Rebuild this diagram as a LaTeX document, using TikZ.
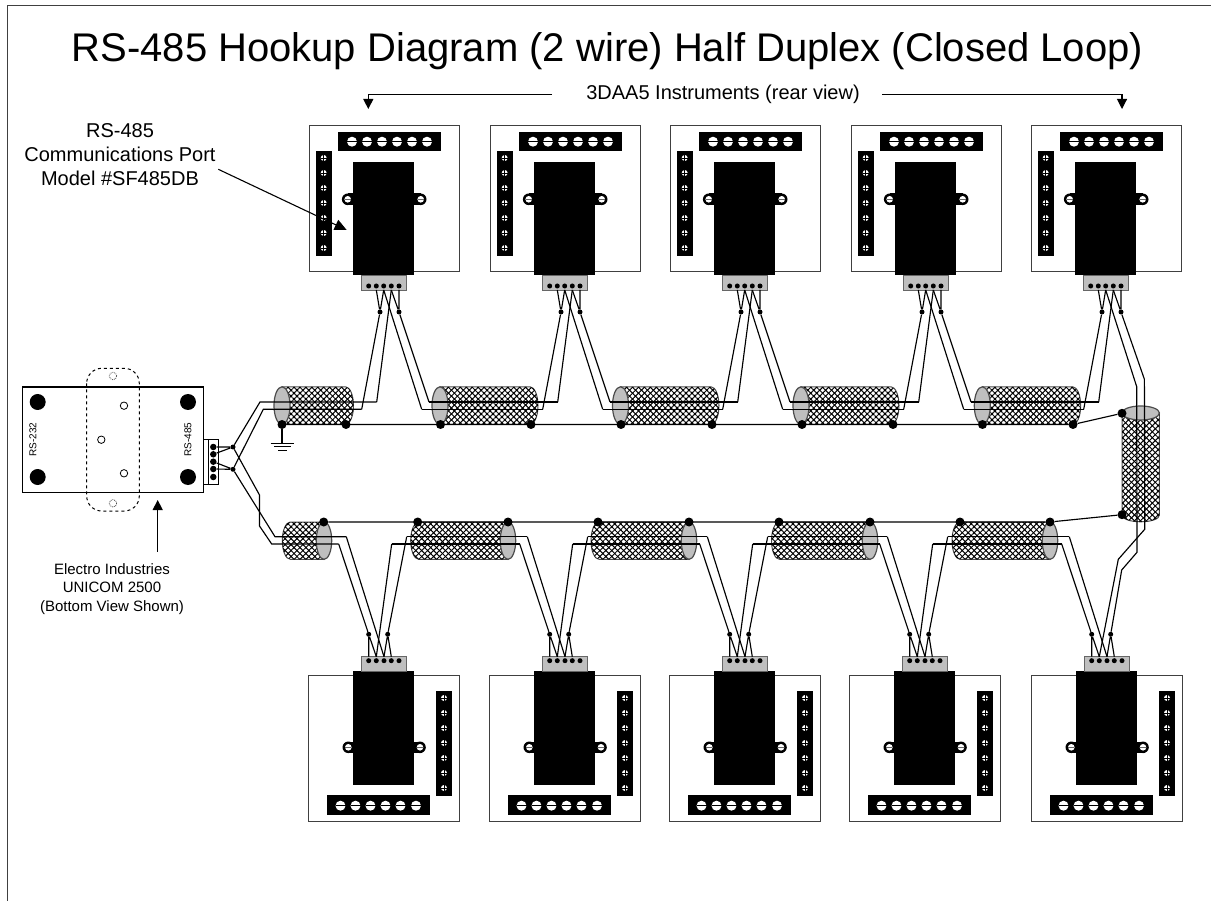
\documentclass[tikz,border=0pt]{standalone}
\usepackage{fontspec}
\setmainfont{Liberation Sans}
\usetikzlibrary{arrows.meta,patterns.meta,shapes.geometric}

\tikzset{
    wire/.style={draw=black, line width=1.15pt},
    edgeline/.style={draw=black!75, line width=0.9pt},
    pointer/.style={draw=black, line width=1.1pt, -{Triangle[length=10pt,width=10pt]}},
    shield/.style={draw=black!70, line width=1pt, fill=white,
        postaction={pattern={Lines[angle=45,distance=4.2pt,line width=1pt]}},
        postaction={pattern={Lines[angle=-45,distance=4.2pt,line width=1pt]}}},
    shieldend/.style={draw=black!70, line width=1.2pt, fill=black!25},
    cabledot/.style={shape=circle, fill=black, inner sep=0pt, minimum size=9pt},
    jointdot/.style={shape=circle, fill=black, inner sep=0pt, minimum size=5pt},
    pindot/.style={shape=circle, fill=black, inner sep=0pt, minimum size=5pt},
    txt/.style={inner sep=0pt, align=center, text=black}
}

\begin{document}
\begin{tikzpicture}[x=1pt,y=-1pt]
    \useasboundingbox (0,0) rectangle (1211,901);
    \draw[edgeline] (7,901) -- (7,5) -- (1211,5);

    \node[txt, anchor=base, font=\fontsize{40}{46}\selectfont] (title) at (607.5,61.5) {RS-485 Hookup Diagram (2 wire) Half Duplex (Closed Loop)};
    \node[txt, font=\fontsize{20}{24}\selectfont] (rearlabel) at (723,94.5) {3DAA5 Instruments (rear view)};
    \node[txt, font=\fontsize{20}{24}\selectfont] (portlabel) at (120,154.5) {RS-485\\Communications Port\\Model \#SF485DB};
    \node[txt, font=\fontsize{15}{18.3}\selectfont] (unicomlabel) at (112,589) {Electro Industries\\UNICOM 2500\\(Bottom View Shown)};

    \coordinate (rearl) at (552,94.3);
    \coordinate (rearr) at (882,94.3);
    \coordinate (dropl) at (368.3,109);
    \coordinate (dropr) at (1122,109);
    \draw[pointer] (rearl) -| (dropl);
    \draw[pointer] (rearr) -| (dropr);
    \coordinate (unifrom) at (157.7,551.7);
    \coordinate (unito) at (157.7,500);
    \draw[pointer] (unifrom) -- (unito);

    % shielded cables
    \foreach \cx/\ex in {282/353.5,440/538,620.5/719,801/899,982.3/1080.7} {
        \path[shield] (\cx,386.8) -- (\ex-8,386.8) .. controls (\ex-3.6,386.8) and (\ex,395.2) .. (\ex,405.6) .. controls (\ex,416) and (\ex-3.6,424.5) .. (\ex-8,424.5) -- (\cx,424.5) -- cycle;
        \path[shieldend] (\cx,405.6) ellipse [x radius=8,y radius=18.8];
    }
    \foreach \cx/\ex in {324/282.3,508/410.7,689/591,870/771.5,1050/952} {
        \path[shield] (\cx,522) -- (\ex+8,522) .. controls (\ex+3.6,522) and (\ex,530.4) .. (\ex,540.6) .. controls (\ex,551) and (\ex+3.6,559.3) .. (\ex+8,559.3) -- (\cx,559.3) -- cycle;
        \path[shieldend] (\cx,540.6) ellipse [x radius=7.7,y radius=18.8];
    }
    \path[shield] (1122,413) -- (1159.4,413) -- (1159.4,515) .. controls (1159.4,519) and (1151,521.8) .. (1140.7,521.8) .. controls (1130.4,521.8) and (1122,519) .. (1122,515) -- cycle;
    \path[shieldend] (1140.7,413) ellipse [x radius=18.7,y radius=7];

    % top instruments
    \foreach \i/\dx in {1/0,2/181,3/361,4/542,5/722} {
    \begin{scope}[shift={(\dx,0)}]
        \draw[edgeline, fill=white] (309,125) rectangle (459.5,271);
        \fill (338,132) rectangle (441,151.5);
        \foreach \sx in {352,367,382,397,412,427} {
            \fill[white] (\sx,141.7) circle (5pt);
            \draw[black, line width=0.8pt] (\sx-5,141.7) -- (\sx+5,141.7);
        }
        \fill (316,151) rectangle (332,256.5);
        \foreach \sy in {158,173,188,203,218,233,248} {
            \fill[white] (323.7,\sy) circle (3pt);
            \draw[black, line width=0.6pt] (320.7,\sy) -- (326.7,\sy) (323.7,\sy-3) -- (323.7,\sy+3);
        }
        \foreach \sx/\nx in {347.7/356,420.7/412} {
            \fill (\sx,193.5) rectangle (\nx,205.1);
            \fill (\sx,199.3) circle (5.8pt);
            \fill[white] (\sx,199.3) circle (3.3pt);
            \draw[black!60, line width=1.2pt] (\sx-3,199.3) -- (\sx+3,199.3);
        }
        \fill (353,161.7) rectangle (414.3,275);
        \draw[draw=black!60, fill=black!25, line width=0.9pt] (361.3,275) rectangle (406.7,290);
        \foreach \n/\px in {1/368.7,2/376.3,3/383.7,4/391.3,5/399} {
            \node[pindot] (tp\i\n) at (\px,286) {};
            \coordinate (tq\i\n) at (\px,290);
        }
        \node[jointdot] (tj\i a) at (380,312) {};
        \node[jointdot] (tj\i b) at (399,312) {};
        \coordinate (tl\i a) at (361.7,409.3);
        \coordinate (tl\i b) at (376.7,402);
        \coordinate (tr\i a) at (421.7,409.3);
        \coordinate (tr\i b) at (429,402);
    \end{scope}
    \draw[wire] (tq\i2) -- (tj\i a) -- (tq\i3);
    \draw[wire] (tq\i4) -- (tj\i b) -- (tq\i5);
    \draw[wire] (tj\i a) -- (tl\i a);
    \draw[wire] (tq\i4) -- (tl\i b);
    }
    \foreach \i in {1,2,3,4} {
        \draw[wire] (tq\i3) -- (tr\i a);
        \draw[wire] (tj\i b) -- (tr\i b);
    }
    \foreach \i/\j in {1/2,2/3,3/4,4/5} {
        \draw[wire] (tr\i a) -- (tl\j a);
        \draw[wire] (tr\i b) -- (tl\j b);
    }
    \coordinate (portfrom) at (218.3,169.3);
    \coordinate (portto) at (346.7,230);
    \draw[pointer, -{Triangle[length=12pt,width=11pt]}] (portfrom) -- (portto);

    % bottom instruments
    \foreach \i/\dx in {1/0,2/181,3/361,4/541,5/723} {
    \begin{scope}[shift={(\dx,0)}]
        \draw[edgeline, fill=white] (308,675) rectangle (459,821);
        \fill (327,795) rectangle (429.5,815);
        \foreach \sx in {340.5,355.5,370.5,385.5,400.5,416} {
            \fill[white] (\sx,805.7) circle (5pt);
            \draw[black, line width=0.8pt] (\sx-5,805.7) -- (\sx+5,805.7);
        }
        \fill (436.3,690.5) rectangle (452.3,796);
        \foreach \sy in {698,713,728,743,758,773,788} {
            \fill[white] (444,\sy) circle (3pt);
            \draw[black, line width=0.6pt] (441,\sy) -- (447,\sy) (444,\sy-3) -- (444,\sy+3);
        }
        \foreach \sx/\nx in {348.3/356,420/412} {
            \fill (\sx,741.5) rectangle (\nx,753.1);
            \fill (\sx,747.3) circle (5.8pt);
            \fill[white] (\sx,747.3) circle (3.3pt);
            \draw[black!60, line width=1.2pt] (\sx-3,747.3) -- (\sx+3,747.3);
        }
        \fill (353,671) rectangle (414.3,785);
        \draw[draw=black!60, fill=black!25, line width=0.9pt] (361.3,656.7) rectangle (406.7,671);
        \foreach \n/\px in {1/368.7,2/376.3,3/384,4/391.3,5/399} {
            \node[pindot] (bp\i\n) at (\px,660.7) {};
            \coordinate (bq\i\n) at (\px,656.7);
        }
        \node[jointdot] (bj\i a) at (368.7,634.3) {};
        \node[jointdot] (bj\i b) at (387.7,634.3) {};
        \coordinate (bl\i a) at (346.3,536.7);
        \coordinate (bl\i b) at (338.7,544);
        \coordinate (br\i a) at (406.7,536.7);
        \coordinate (br\i b) at (391.7,544);
    \end{scope}
    \draw[wire] (bq\i1) -- (bj\i a) -- (bq\i2);
    \draw[wire] (bq\i3) -- (bj\i b) -- (bq\i4);
    \draw[wire] (bj\i a) -- (bl\i b);
    \draw[wire] (bq\i3) -- (bl\i a);
    }
    \foreach \i in {1,2,3,4} {
        \draw[wire] (bq\i2) -- (br\i b);
        \draw[wire] (bj\i b) -- (br\i a);
    }
    \foreach \i/\j in {1/2,2/3,3/4,4/5} {
        \draw[wire] (br\i a) -- (bl\j a);
        \draw[wire] (br\i b) -- (bl\j b);
    }

    % loop back round the last instruments
    \draw[wire] (tq53) -- (1136.7,386.7) -- (1137,552.3) -- (1121.7,570) -- (bj5b);
    \draw[wire] (tj5b) -- (1144.4,379.3) -- (1144.7,529.3) -- (1118.3,559.3) -- (bq52);

    % shield drain line
    \foreach \n/\px in {1/282,2/346,3/440.5,4/531,5/621,6/712,7/802,8/893,9/982.5,10/1073} {
        \node[cabledot] (ts\n) at (\px,424.5) {};
    }
    \foreach \n/\px in {1/323.7,2/417.7,3/508,4/598,5/689,6/779,7/870,8/960,9/1050} {
        \node[cabledot] (bs\n) at (\px,522) {};
    }
    \node[cabledot] (vs1) at (1122,413.3) {};
    \node[cabledot] (vs2) at (1122,514.7) {};
    \draw[wire] (ts1) -- (ts10) -- (vs1);
    \draw[wire] (bs1) -- (bs9) -- (vs2);

    % ground
    \coordinate (gnd) at (282,443.3);
    \draw[wire] (ts1) -- (gnd);
    \draw[wire] (270.7,443.3) -- (294,443.3) (274,446.9) -- (290.7,446.9) (278,450.5) -- (286.7,450.5);

    % unicom
    \draw[draw=black, fill=white, line width=1.1pt] (22.3,387) rectangle (203.3,492.3);
    \foreach \px in {37.7,188} {
        \foreach \py in {402,477} {
            \fill (\px,\py) circle (8pt);
        }
    }
    \foreach \px/\py in {124/405.7,101.3/439.7,124/473.3} {
        \draw[black, line width=0.8pt, fill=white] (\px,\py) circle (3.7pt);
    }
    \draw[black, dashed, line width=1pt, rounded corners=15pt] (86.7,368.3) rectangle (139.3,511);
    \foreach \py in {376,503.3} {
        \draw[black!70, densely dotted, line width=0.8pt] (113,\py) circle (3.7pt);
    }
    \node[txt, rotate=90, font=\fontsize{10}{12}\selectfont] (rsa) at (33,439.5) {RS-232};
    \node[txt, rotate=90, font=\fontsize{10}{12}\selectfont] (rsb) at (188,439.5) {RS-485};
    \draw[black, fill=white, line width=0.9pt] (203.3,439.3) rectangle (218.3,484.3);
    \draw[black, line width=0.9pt] (208.3,439.3) -- (208.3,484.3);
    \foreach \n/\py in {1/447,2/454.3,3/461.7,4/469,5/477} {
        \node[shape=circle, fill=black, inner sep=0pt, minimum size=6.5pt] (up\n) at (213.3,\py) {};
    }
    \node[jointdot] (uja) at (233,447) {};
    \node[jointdot] (ujb) at (233,469.3) {};
    \draw[wire] (up1) -- (uja) -- (up2);
    \draw[wire] (up3) -- (ujb) -- (up4);
    \draw[wire] (uja) -- (260,402) -- (tl1b);
    \draw[wire] (ujb) -- (263.3,409.3) -- (tl1a);
    \draw[wire] (uja) -- (259.5,495) -- (259.5,526) -- (271.7,544) -- (bl1b);
    \draw[wire] (ujb) -- (275,536.7) -- (bl1a);
\end{tikzpicture}
\end{document}
